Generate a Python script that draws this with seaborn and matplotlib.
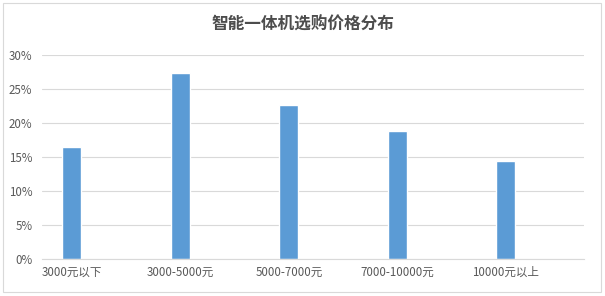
import matplotlib
matplotlib.use("Agg")
import matplotlib.pyplot as plt
import seaborn as sns
import pandas as pd
from matplotlib.patches import Rectangle
from matplotlib.ticker import FuncFormatter

categories = ["3000元以下", "3000-5000元", "5000-7000元", "7000-10000元", "10000元以上"]
shares = [16.4, 27.3, 22.6, 18.8, 14.4]
yticks = [0, 5, 10, 15, 20, 25, 30]
title = "智能一体机选购价格分布"

sns.set_theme(style="white")
plt.rcParams['font.family'] = ['Noto Sans CJK SC', 'DejaVu Sans']

df = pd.DataFrame({"cat": categories, "share": shares})

fig = plt.figure(figsize=(6.05, 2.96), dpi=100)
ax = fig.add_axes([42/605, 1-259.3/296, (584-42)/605, (259.3-54.7)/296])

sns.barplot(data=df, x="cat", y="share", ax=ax, color="#5B9BD5",
            saturation=1, width=0.175, order=categories)

ax.set_xlim(-0.276, 4.72)
ax.set_ylim(0, 30)
ax.set_yticks(yticks)
ax.yaxis.set_major_formatter(FuncFormatter(lambda v, p: f"{int(v)}%"))
ax.grid(axis="y", color="#D9D9D9", linewidth=0.8)
ax.set_axisbelow(True)
for s in ["top", "right", "left"]:
    ax.spines[s].set_visible(False)
ax.spines["bottom"].set_color("#D9D9D9")
ax.spines["bottom"].set_linewidth(0.8)
ax.tick_params(axis="both", length=0, labelsize=8.3, colors="#595959")
ax.tick_params(axis="x", pad=5)
ax.tick_params(axis="y", pad=7)
ax.set_xlabel("")
ax.set_ylabel("")

fig.text(0.5, 1-25/296, title, ha="center", va="center", fontsize=12,
         fontweight="bold", color="#4D4D4D")

fig.patches.append(Rectangle((3/605, 1-292/296), 598/605, 289/296,
                             transform=fig.transFigure, fill=False,
                             edgecolor="#D9D9D9", linewidth=0.8))

fig.savefig("out.png", dpi=100, facecolor="white")
